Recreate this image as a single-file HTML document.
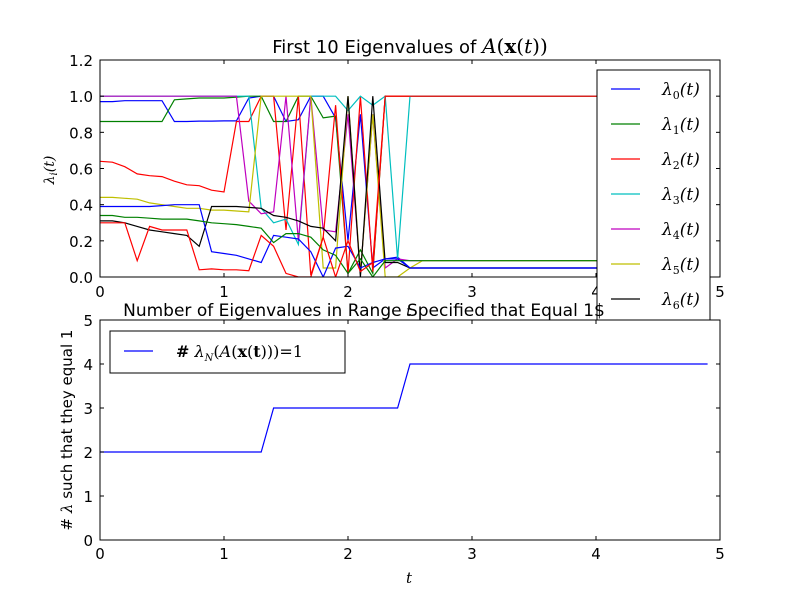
<!DOCTYPE html>
<html><head><meta charset="utf-8"><style>
body{margin:0;background:#fff;}
svg{display:block;}
text{font-family:"DejaVu Sans","Liberation Sans",sans-serif;}
.m{font-family:"DejaVu Serif","Liberation Serif",serif;font-style:italic;}
</style></head><body>
<svg id="c" width="800" height="600" xmlns="http://www.w3.org/2000/svg">
<rect width="800" height="600" fill="#fff"/>
<defs><clipPath id="ct"><rect x="100" y="60" width="620" height="217"/></clipPath></defs>
<g id="topAx"></g>
<g id="leg1"></g>
<g id="botAx"></g>
</svg>
<script>
const xs = [];
for (let i = 0; i < 50; i++) xs.push(+(i * 0.1).toFixed(1));
const seriesColors = ["#0000ff","#008000","#ff0000","#00bfbf","#bf00bf","#bfbf00","#000000","#0000ff","#008000","#ff0000"];
const lam0 = [0.97,0.97,0.975,0.975,0.975,0.975,0.86,0.86,0.862,0.862,0.863,0.863,0.99,1,1,0.86,0.87,1,1,0.88,0.2,0.9,0.05,0.1,0.11,0.05];
const lam1 = [0.86,0.86,0.86,0.86,0.86,0.86,0.98,0.985,0.99,0.99,0.99,0.995,1,1,0.86,0.86,1,1,0.88,0.89,0.02,0.15,0.02,1,1,1];
const lam2 = [0.64,0.635,0.61,0.57,0.56,0.555,0.53,0.51,0.505,0.48,0.47,0.86,0.86,1,1,0.26,1,0.01,0.22,0.95,0.02,1,0.03,1,1,1];
const lam3 = [1,1,1,1,1,1,1,1,1,1,1,1,1,0.38,0.3,0.32,0.18,1,1,1,0.92,1,0.95,1,0.1,1];
const lam4 = [1,1,1,1,1,1,1,1,1,1,1,1,0.42,0.35,0.36,1,0.2,1,0.26,0.25,0.9,0.02,0.9,0.05,0.1,0.09];
const lam5 = [0.44,0.44,0.435,0.43,0.41,0.4,0.39,0.38,0.38,0.37,0.37,0.365,0.36,1,1,1,1,1,0.05,0.05,1,0.02,0.9,0,0,0.05];
const lam6 = [0.31,0.31,0.3,0.28,0.26,0.25,0.24,0.23,0.17,0.39,0.39,0.39,0.385,0.38,0.34,0.33,0.31,0.28,0.27,0.2,1,0,1,0.08,0.08,0.05];
const lam7 = [0.39,0.39,0.39,0.39,0.39,0.395,0.4,0.4,0.4,0.14,0.13,0.12,0.1,0.08,0.23,0.22,0.21,0.14,0,0.16,0.17,0.05,0.08,0.1,0.1,0.05];
const lam8 = [0.34,0.34,0.33,0.33,0.325,0.32,0.32,0.32,0.31,0.3,0.295,0.29,0.28,0.27,0.19,0.24,0.24,0.22,0.15,0.12,0.02,0.1,0,0.09,0.09,0.09];
const lam9 = [0.3,0.3,0.3,0.09,0.28,0.26,0.26,0.26,0.04,0.045,0.04,0.04,0.035,0.23,0.17,0.02,0,0,0.22,0,0.2,0.03,0.08,1,1,1];
const tails = [0.05,1,1,1,0.09,0.09,0.05,0.05,0.09,1];
const countX = [0,1.3,1.4,2.4,2.5,4.9];
const countY = [2,2,3,3,4,4];
const topYTicks = [0,0.2,0.4,0.6,0.8,1.0,1.2];
const xTicks = [0,1,2,3,4,5];
const botYTicks = [0,1,2,3,4,5];

const NS = "http://www.w3.org/2000/svg";
function mk(tag, attrs, parent, txt) {
  const e = document.createElementNS(NS, tag);
  for (const k in attrs) e.setAttribute(k, attrs[k]);
  if (txt !== undefined) e.textContent = txt;
  parent.appendChild(e);
  return e;
}
const L = 100, R = 720;
const xS = v => L + v / 5 * (R - L);
const yT = v => 277 - v / 1.2 * (277 - 60);
const yB = v => 540 - v / 5 * (540 - 320);

const topG = document.getElementById('topAx');
const allSeries = [lam0,lam1,lam2,lam3,lam4,lam5,lam6,lam7,lam8,lam9];
let r = mk('rect',{x:L,y:60,width:R-L,height:217,fill:'#fff'},topG);


const gs = mk('g',{'clip-path':'url(#ct)'},topG);
allSeries.forEach((s, k) => {
  const vals = xs.map((x, i) => i < s.length ? s[i] : tails[k]);
  const d = vals.map((v, i) => (i ? 'L' : 'M') + xS(xs[i]).toFixed(1) + ',' + yT(v).toFixed(1)).join('');
  const p = mk('path',{d:d,fill:'none',stroke:seriesColors[k],'stroke-width':1.2},gs);
  
  
});
mk('rect',{x:L,y:60,width:R-L,height:217,fill:'none',stroke:'#000'},topG);
topYTicks.forEach(v => {
  const y = yT(v);
  mk('line',{x1:L,x2:L+4,y1:y,y2:y,stroke:'#000'},topG);
  mk('line',{x1:R,x2:R-4,y1:y,y2:y,stroke:'#000'},topG);
  const t = mk('text',{x:L-7,y:y+6,'font-size':15,'text-anchor':'end'},topG,v.toFixed(1));
  
  
});
xTicks.forEach(v => {
  const x = xS(v);
  mk('line',{x1:x,x2:x,y1:277,y2:273,stroke:'#000'},topG);
  mk('line',{x1:x,x2:x,y1:60,y2:64,stroke:'#000'},topG);
  const t = mk('text',{x:x,y:297,'font-size':15,'text-anchor':'middle'},topG,String(v));
  
  
});
let tt = mk('text',{x:410,y:53,'font-size':18,'text-anchor':'middle'},topG);
tt.innerHTML = 'First 10 Eigenvalues of <tspan class="m" font-size="20">A</tspan><tspan font-size="20" font-family="DejaVu Serif">(<tspan font-weight="bold">x</tspan>(<tspan class="m">t</tspan>))</tspan>';


let yl = mk('text',{transform:'translate(54,170) rotate(-90)','font-size':14,'text-anchor':'middle'},topG);
yl.innerHTML = '<tspan class="m">λ</tspan><tspan class="m" font-size="10" dy="3">i</tspan><tspan class="m" dy="-3">(t)</tspan>';



const lg = document.getElementById('leg1');
mk('rect',{x:597,y:70,width:113,height:262,fill:'#fff',stroke:'#000'},lg);
for (let k = 0; k < 7; k++) {
  const y = 89 + k * 35;
  mk('line',{x1:611,x2:640,y1:y,y2:y,stroke:seriesColors[k],'stroke-width':1.2},lg);
  const t = mk('text',{x:662,y:y+6,'font-size':17},lg);
  t.innerHTML = '<tspan class="m">λ</tspan><tspan font-size="11" dy="4" font-family="DejaVu Serif">' + k + '</tspan><tspan class="m" dy="-4">(t)</tspan>';
  
  
}

const botG = document.getElementById('botAx');
mk('text',{x:409,y:316,'font-size':14,'text-anchor':'middle',class:'m'},botG,'t');
r = mk('rect',{x:L,y:320,width:R-L,height:220,fill:'#fff',stroke:'#000'},botG);


let bt = mk('text',{x:364,y:316,'font-size':17,'text-anchor':'middle'},botG,'Number of Eigenvalues in Range Specified that Equal 1$');


const cd = countX.map((x, i) => (i ? 'L' : 'M') + xS(x).toFixed(1) + ',' + yB(countY[i]).toFixed(1)).join('');
const cl = mk('path',{d:cd,fill:'none',stroke:'#0000ff','stroke-width':1.2},botG);


botYTicks.forEach(v => {
  const y = yB(v);
  mk('line',{x1:L,x2:L+4,y1:y,y2:y,stroke:'#000'},botG);
  mk('line',{x1:R,x2:R-4,y1:y,y2:y,stroke:'#000'},botG);
  const t = mk('text',{x:L-7,y:y+6,'font-size':15,'text-anchor':'end'},botG,String(v));
  
  
});
xTicks.forEach(v => {
  const x = xS(v);
  mk('line',{x1:x,x2:x,y1:540,y2:536,stroke:'#000'},botG);
  mk('line',{x1:x,x2:x,y1:320,y2:324,stroke:'#000'},botG);
  const t = mk('text',{x:x,y:559,'font-size':15,'text-anchor':'middle'},botG,String(v));
  
  
});
let xl = mk('text',{x:409,y:583,'font-size':15,'text-anchor':'middle',class:'m'},botG,'t');


let byl = mk('text',{transform:'translate(72,430) rotate(-90)','font-size':15,'text-anchor':'middle'},botG);
byl.innerHTML = '# <tspan class="m">λ</tspan> such that they equal 1';


const lg2 = mk('g',{},botG);


mk('rect',{x:110,y:331,width:235,height:42,fill:'#fff',stroke:'#000'},lg2);
mk('line',{x1:124,x2:153,y1:351,y2:351,stroke:'#0000ff','stroke-width':1.2},lg2);
const lt = mk('text',{x:176,y:357,'font-size':16},lg2);
lt.innerHTML = '<tspan font-weight="bold">#</tspan> <tspan class="m">λ</tspan><tspan class="m" font-size="10" dy="4">N</tspan><tspan dy="-4" font-family="DejaVu Serif">(<tspan class="m">A</tspan>(<tspan font-weight="bold">x</tspan>(<tspan font-weight="bold">t</tspan>)))=1</tspan>';
</script>
</body></html>
